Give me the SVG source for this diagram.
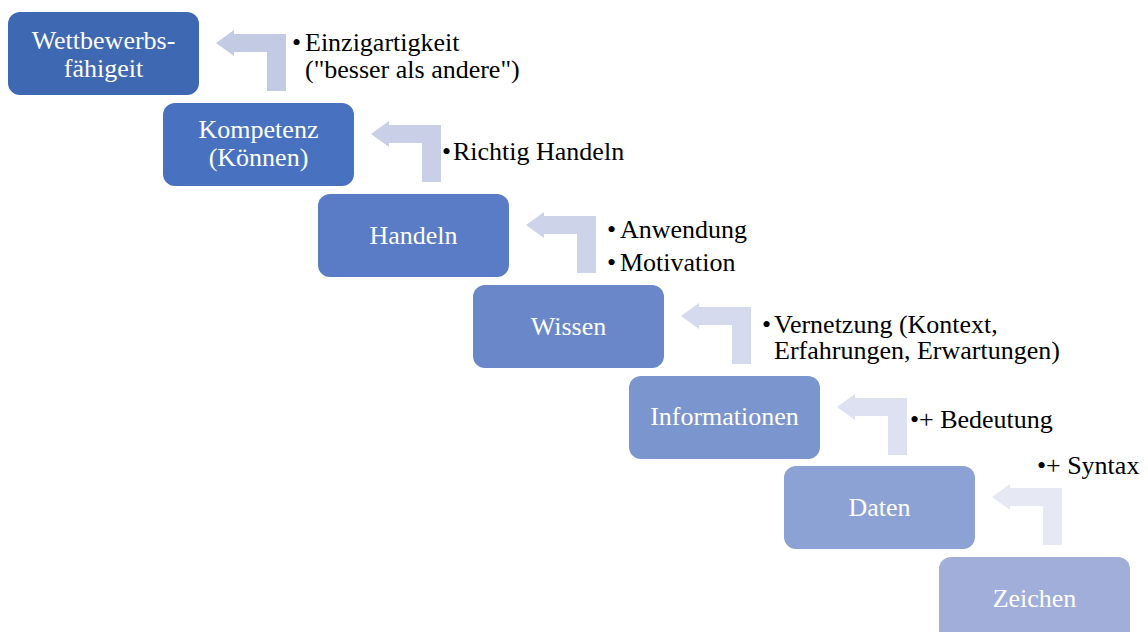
<svg xmlns="http://www.w3.org/2000/svg" width="1148" height="632" viewBox="0 0 1148 632">
<style>
.lbl{font-family:"Liberation Serif","Times New Roman",serif;font-size:26px;fill:#ffffff;text-anchor:middle}
.txt{font-family:"Liberation Serif","Times New Roman",serif;font-size:26px;fill:#000000}
</style>
<rect width="1148" height="632" fill="#ffffff"/>
<g id="connectors">
<path d="M216,43 L234,30 L234,34 L286,34 L286,91 L267,91 L267,52 L234,52 L234,56 Z" fill="#C3CBE4"/>
<path d="M371,134 L389,121 L389,125 L441,125 L441,182 L422,182 L422,143 L389,143 L389,147 Z" fill="#C8CFE7"/>
<path d="M526,225 L544,212 L544,216 L596,216 L596,273 L577,273 L577,234 L544,234 L544,238 Z" fill="#CDD4EA"/>
<path d="M681,316 L699,303 L699,307 L751,307 L751,364 L732,364 L732,325 L699,325 L699,329 Z" fill="#D5DAEE"/>
<path d="M837,407 L855,394 L855,398 L907,398 L907,455 L888,455 L888,416 L855,416 L855,420 Z" fill="#DDE1F1"/>
<path d="M992,497 L1010,484 L1010,488 L1062,488 L1062,545 L1043,545 L1043,506 L1010,506 L1010,510 Z" fill="#E6E9F4"/>
</g>
<g id="node1">
<rect x="8" y="12" width="191" height="83" rx="12" fill="#3F68B2"/>
<text class="lbl" x="103.5" y="49">Wettbewerbs-</text>
<text class="lbl" x="103.5" y="77">fähigeit</text>
</g>
<g id="node2">
<rect x="163" y="103" width="191" height="83" rx="12" fill="#4872C0"/>
<text class="lbl" x="258.5" y="138">Kompetenz</text>
<text class="lbl" x="258.5" y="166">(Können)</text>
</g>
<g id="node3">
<rect x="318" y="194" width="191" height="83" rx="12" fill="#5A7CC6"/>
<text class="lbl" x="413.5" y="244">Handeln</text>
</g>
<g id="node4">
<rect x="473" y="285" width="191" height="83" rx="12" fill="#6A88C9"/>
<text class="lbl" x="568.5" y="335">Wissen</text>
</g>
<g id="node5">
<rect x="629" y="376" width="191" height="83" rx="12" fill="#7B95CE"/>
<text class="lbl" x="724.5" y="425">Informationen</text>
</g>
<g id="node6">
<rect x="784" y="466" width="191" height="83" rx="12" fill="#8CA1D4"/>
<text class="lbl" x="879.5" y="516">Daten</text>
</g>
<g id="node7">
<rect x="939" y="557" width="191" height="90" rx="12" fill="#A0AED9"/>
<text class="lbl" x="1034.5" y="607">Zeichen</text>
</g>
<g id="labels">
<text class="txt" x="292" y="51">•</text><text class="txt" x="305" y="51">Einzigartigkeit</text>
<text class="txt" x="305" y="78">("besser als andere")</text>
<text class="txt" x="442" y="160">•</text><text class="txt" x="453" y="160">Richtig Handeln</text>
<text class="txt" x="607" y="238">•</text><text class="txt" x="620" y="238">Anwendung</text>
<text class="txt" x="607" y="271">•</text><text class="txt" x="620" y="271">Motivation</text>
<text class="txt" x="762" y="333">•</text><text class="txt" x="774" y="333">Vernetzung (Kontext,</text>
<text class="txt" x="774" y="359">Erfahrungen, Erwartungen)</text>
<text class="txt" x="910" y="428">•</text><text class="txt" x="919" y="428">+ Bedeutung</text>
<text class="txt" x="1037" y="474">•</text><text class="txt" x="1046" y="474">+ Syntax</text>
</g>
</svg>
